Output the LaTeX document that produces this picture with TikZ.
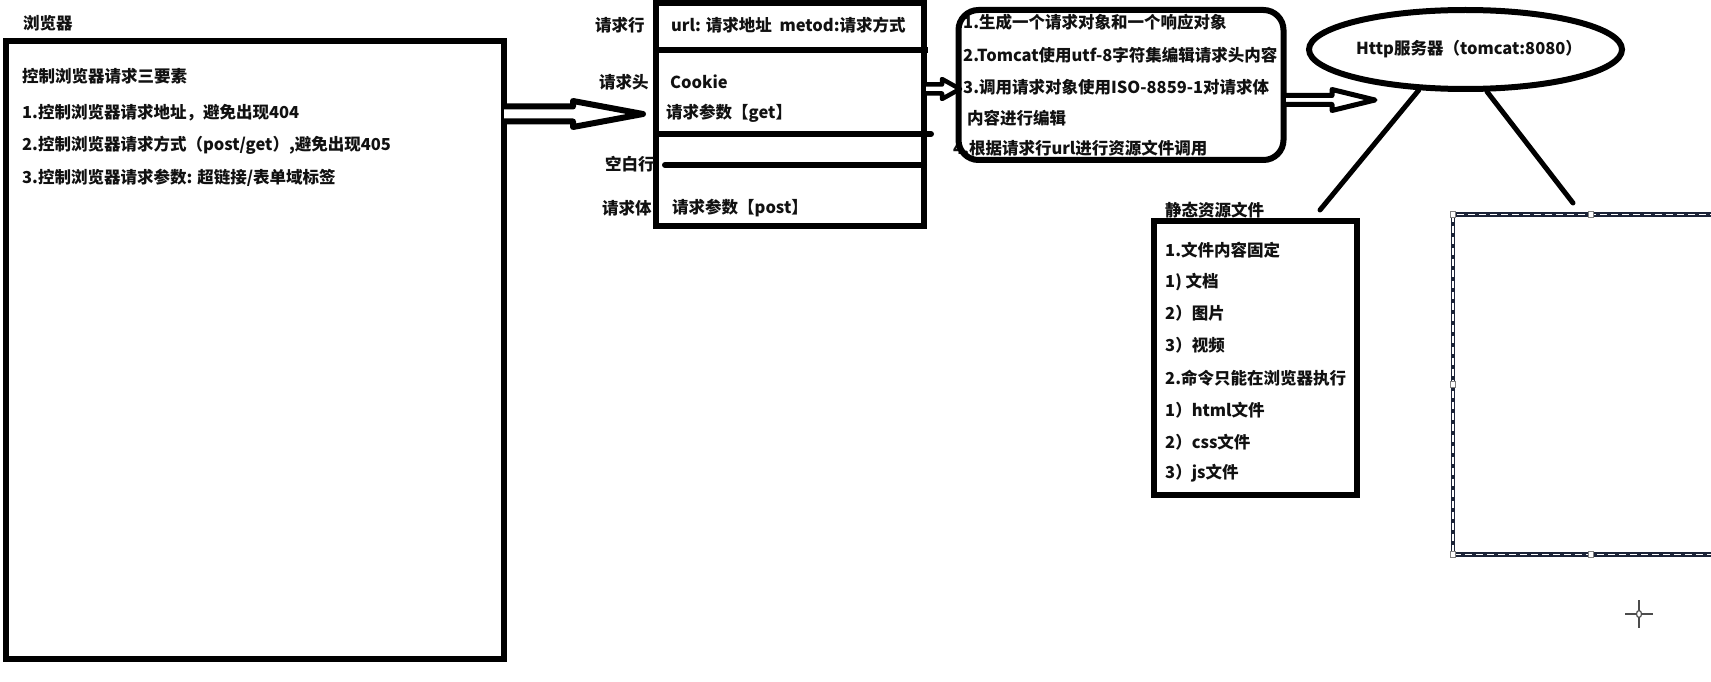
\documentclass[tikz,border=0pt]{standalone}
\usepackage{fontspec}
\setmainfont{Noto Sans CJK SC}
\usetikzlibrary{calc,shapes.geometric}
\definecolor{ink}{HTML}{111111}
\definecolor{selnavy}{HTML}{1C2438}
\tikzset{
  txt/.style={anchor=west, inner sep=0pt, font=\fontsize{16.5}{18}\selectfont\bfseries, text=ink},
  thickbox/.style={draw=black, line width=6pt, inner sep=0pt},
  harrowline/.style={draw=black, fill=white, line join=round},
  spoke/.style={draw=black, line width=5pt, line cap=round},
  rowline/.style={draw=black, line width=6pt},
  handle/.style={draw=gray, fill=white, line width=0.8pt, minimum size=5.5pt, inner sep=0pt},
}
\newcommand\hollowarrow[6]{%
  \draw[#1] ($(#2)+(0,-#4)$) -- ($(#3)+(-#6,-#4)$) -- ($(#3)+(-#6,-#5)$) -- (#3)
    -- ($(#3)+(-#6,#5)$) -- ($(#3)+(-#6,#4)$) -- ($(#2)+(0,#4)$);}
\begin{document}
\begin{tikzpicture}[x=1pt,y=-1pt]
\useasboundingbox (0,0) rectangle (1711,682);
\fill[white] (0,0) rectangle (1711,682);

% ---- browser
\node[txt] (btitle) at (23,23) {浏览器};
\node[thickbox, minimum width=498pt, minimum height=618pt] (browser) at (255,350) {};
\node[txt] (b0) at (22,76) {控制浏览器请求三要素};
\node[txt] (b1) at (22,113) {1.控制浏览器请求地址，避免出现404};
\node[txt] (b2) at (22,145) {2.控制浏览器请求方式（post/get）,避免出现405};
\node[txt] (b3) at (22,178) {3.控制浏览器请求参数: 超链接/表单域标签};

% ---- request table
\node[thickbox, minimum width=268pt, minimum height=223pt] (req) at (790,114.5) {};
\draw[rowline] (656,50) -- (928,50);
\draw[rowline, line cap=round] (656,134) -- (931,134);
\draw[rowline, line cap=round] (665,165) -- (924,165);
\node[txt] (lrow) at (595,25) {请求行};
\node[txt] (lhead) at (599,82) {请求头};
\node[txt] (lblank) at (605,164) {空白行};
\node[txt] (lbody) at (602,208) {请求体};
\node[txt] (trow) at (671,25) {url: 请求地址 \ metod:请求方式};
\node[txt] (tcookie) at (670,82) {Cookie};
\node[txt] (tget) at (666,113) {请求参数【get】};
\node[txt] (tpost) at (672,208) {请求参数【post】};

% ---- processing
\node[txt] (p1) at (963,22) {1.生成一个请求对象和一个响应对象};
\node[txt] (p2) at (963,55) {2.Tomcat使用utf-8字符集编辑请求头内容};
\node[txt] (p3) at (963,87) {3.调用请求对象使用ISO-8859-1对请求体};
\node[txt] (p4) at (967,118) {内容进行编辑};
\node[txt] (p5) at (953,148) {4.根据请求行url进行资源文件调用};
\node[thickbox, rounded corners=20pt, minimum width=325pt, minimum height=150pt] (proc) at (1121,85) {};

% ---- server
\node[thickbox, ellipse, minimum width=313pt, minimum height=79pt] (srv) at (1465.5,49.5) {};
\node[txt, anchor=center] (srvtxt) at (1469,49) {Http服务器（tomcat:8080）};

% ---- static files
\node[txt] (stitle) at (1165,210) {静态资源文件};
\node[thickbox, minimum width=203pt, minimum height=274pt] (stat) at (1255.5,358) {};
\node[txt] (s1) at (1165,250) {1.文件内容固定};
\node[txt] (s2) at (1165,282) {1) 文档};
\node[txt] (s3) at (1165,313) {2）图片};
\node[txt] (s4) at (1165,345) {3）视频};
\node[txt] (s5) at (1165,378) {2.命令只能在浏览器执行};
\node[txt] (s6) at (1165,410) {1）html文件};
\node[txt] (s7) at (1165,442) {2）css文件};
\node[txt] (s8) at (1165,473) {3）js文件};

% ---- selected rectangle (partly off canvas)
\begin{scope}
\clip (0,0) rectangle (1711,682);
\node[draw=selnavy, line width=4.5pt, outer sep=0pt, minimum width=276pt, minimum height=340pt, inner sep=0pt] (sel) at (1591,384.5) {};
\draw[white, line width=1.4pt, dash pattern=on 7pt off 4pt] (sel.north west) rectangle (sel.south east);
\foreach \a in {north west, north, west, south west, south}
  \node[handle] at (sel.\a) {};
\end{scope}

% ---- connectors
\coordinate (a1s) at (504,114);
\coordinate (a1t) at (643,114);
\hollowarrow{harrowline, line width=6pt}{a1s}{a1t}{7.5}{13}{70}
\coordinate (a2s) at (926,89);
\coordinate (a2t) at (960,89);
\hollowarrow{harrowline, line width=4.5pt}{a2s}{a2t}{4.5}{10}{18}
\coordinate (a3s) at (1286,100);
\coordinate (a3t) at (1375,100);
\hollowarrow{harrowline, line width=5pt}{a3s}{a3t}{4.5}{10.5}{43}
\coordinate (l1) at (1320,210);
\coordinate (r1) at (1573,203);
\draw[spoke] (srv.-139) -- (l1);
\draw[spoke] (srv.-63) -- (r1);

% ---- cursor
\coordinate (cur) at (1639,614);
\draw[gray!60!black, line width=1.6pt] ($(cur)+(0,-14)$) -- ($(cur)+(0,-4)$)
  ($(cur)+(0,4)$) -- ($(cur)+(0,14)$)
  ($(cur)+(-14,0)$) -- ($(cur)+(-3,0)$)
  ($(cur)+(3,0)$) -- ($(cur)+(14,0)$);
\draw[gray!60!black, line width=1.2pt] (cur) ellipse [x radius=2.5pt, y radius=3.5pt];
\end{tikzpicture}
\end{document}
